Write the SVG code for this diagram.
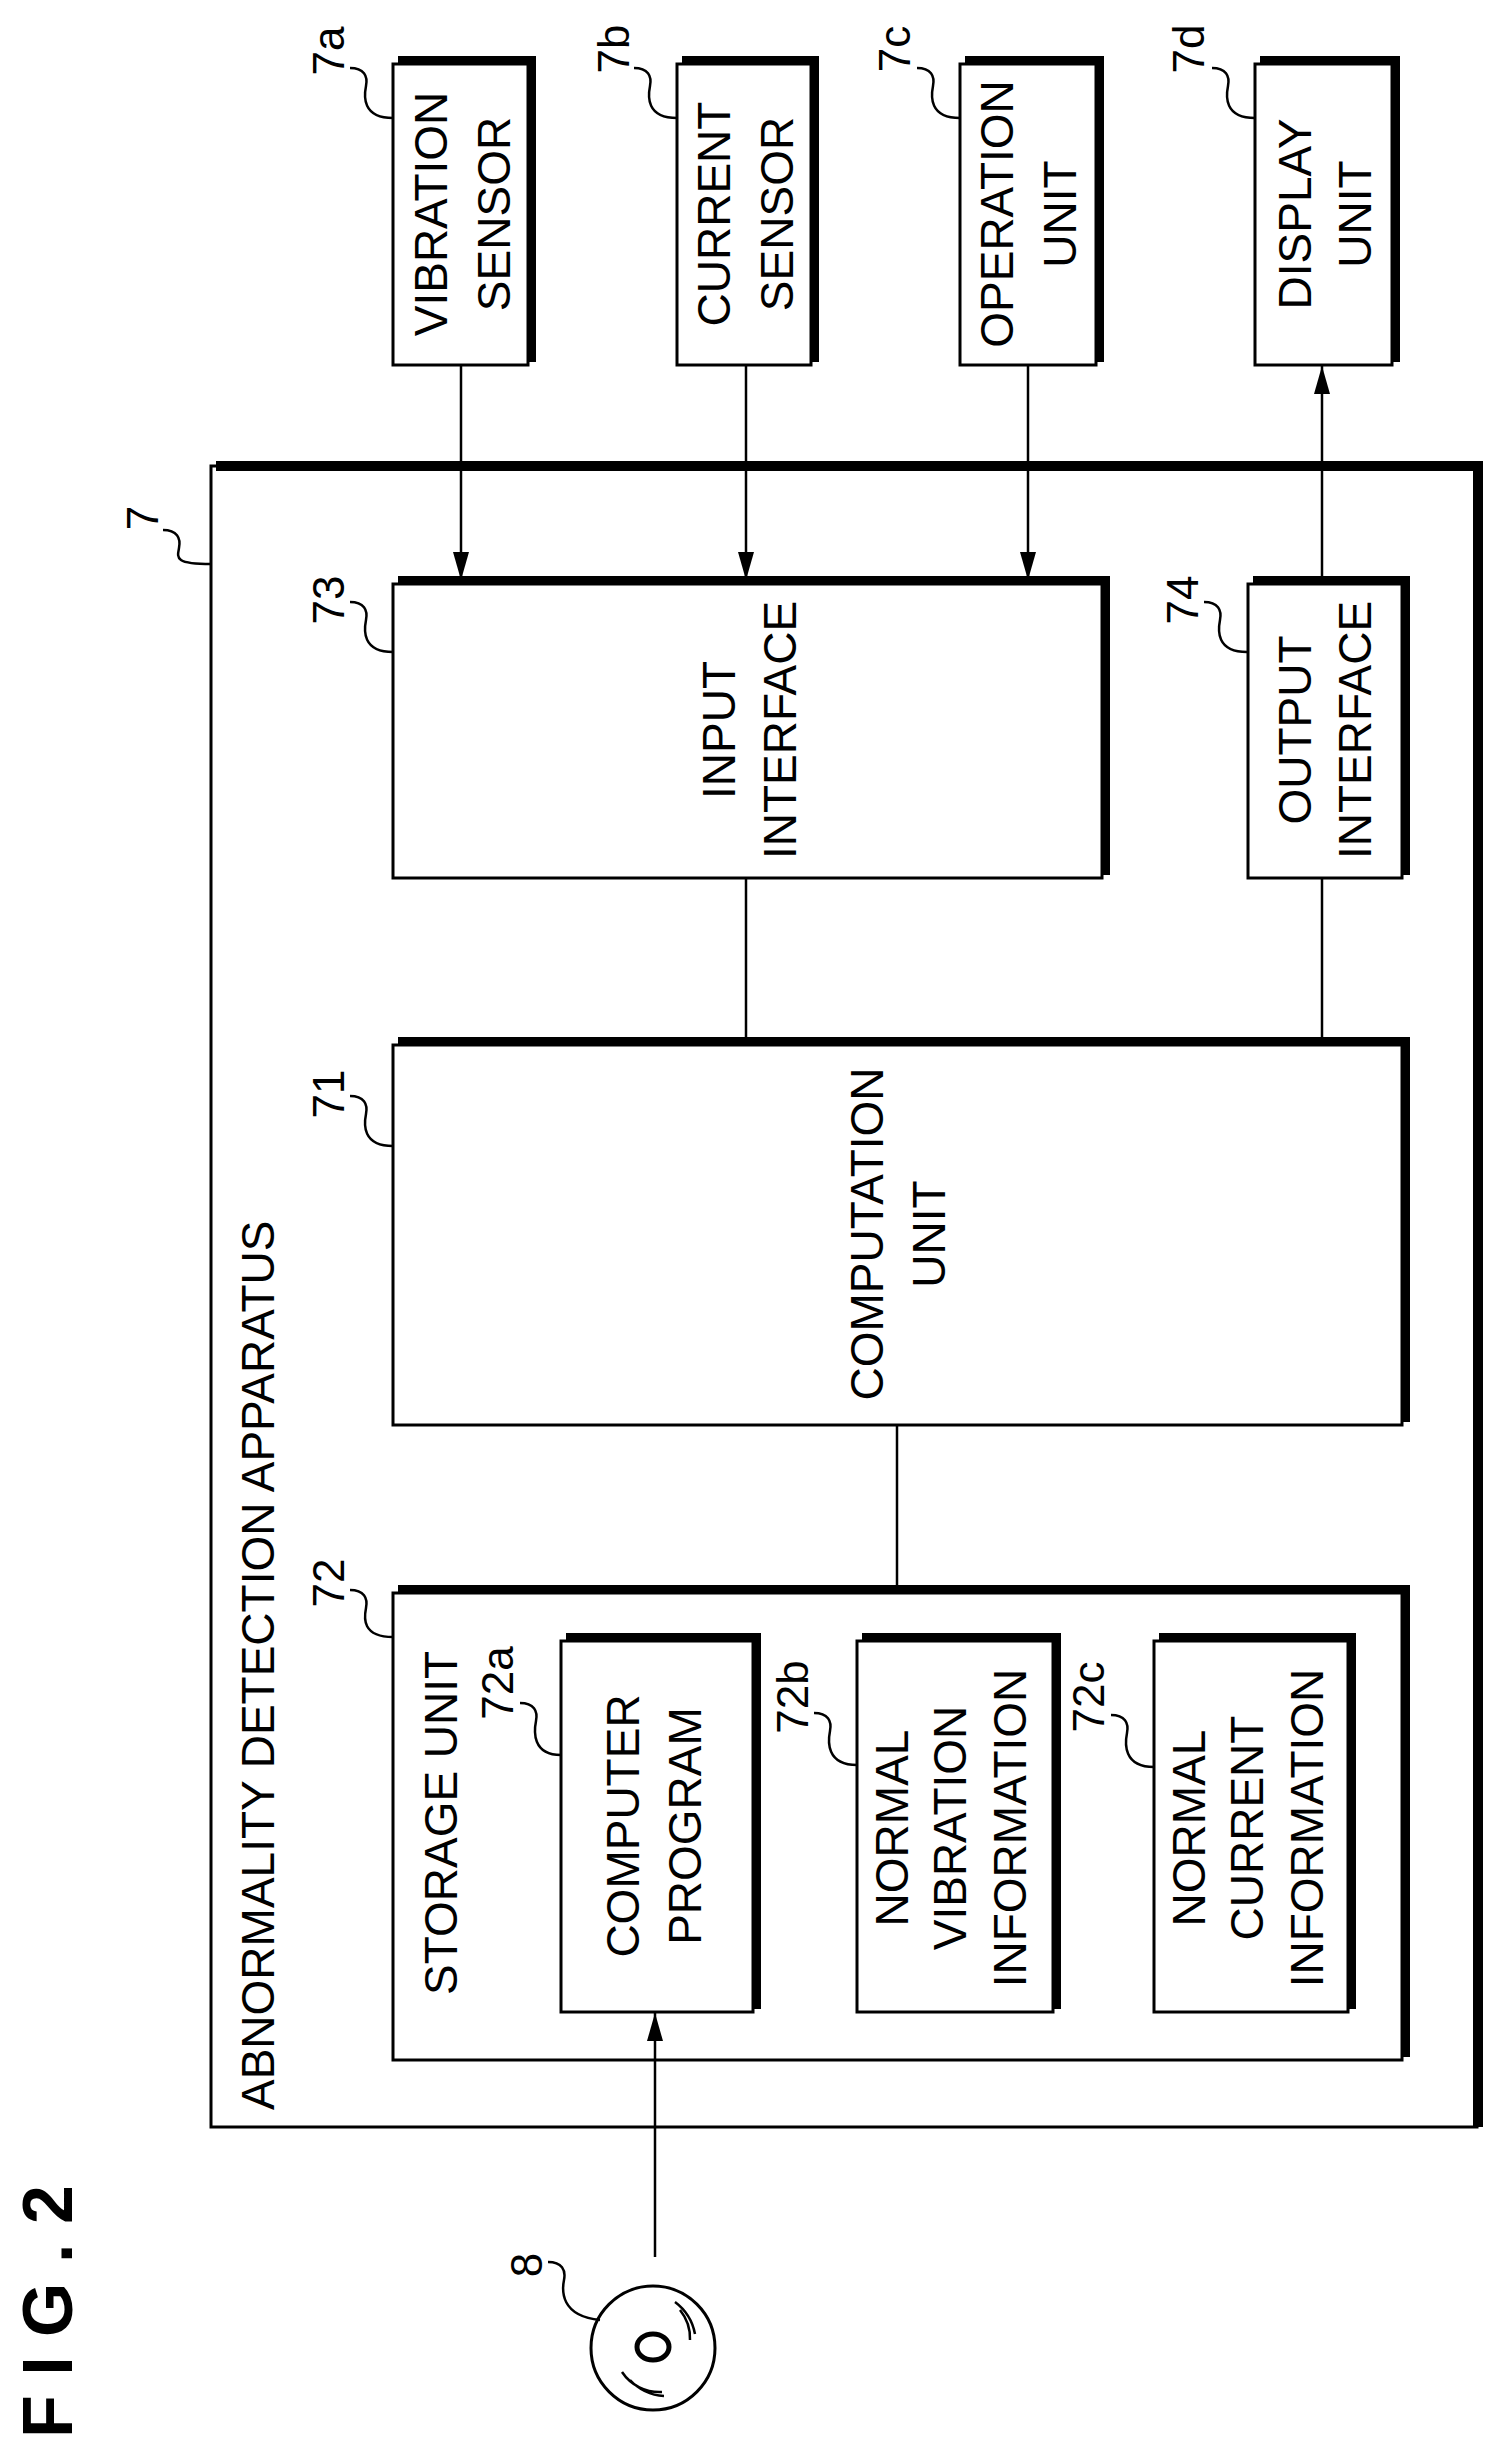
<svg xmlns="http://www.w3.org/2000/svg" width="1503" height="2460" viewBox="0 0 1503 2460">
<style>
text{font-family:"Liberation Sans",Arial,sans-serif;font-size:46px;fill:#000}
.m{text-anchor:middle}
.r{font-size:44px}
.b{fill:#fff;stroke:#000;stroke-width:3}
.s{fill:none;stroke:#000;stroke-width:8}
.l{fill:none;stroke:#000;stroke-width:2.5}
</style>
<defs>
<marker id="a" markerWidth="30" markerHeight="20" refX="28" refY="10" orient="auto" markerUnits="userSpaceOnUse"><path d="M0,2 L28,10 L0,18 Z" fill="#000"/></marker>
</defs>
<rect width="1503" height="2460" fill="#fff"/>

<g id="n7">
<rect class="b" x="211" y="466" width="1266" height="1661"/>
<polyline points="216,466 1478,466 1478,2127" fill="none" stroke="#000" stroke-width="10"/>
<text transform="translate(158,518) rotate(-90)" class="m r">7</text>
<path class="l" d="M163,530 c14,0 18,8 16,18 c-2,10 -4,16 32,16"/>
<text transform="translate(274,2110) rotate(-90)">ABNORMALITY DETECTION APPARATUS</text>
</g>

<g id="n7a">
<rect class="b" x="393" y="64" width="135" height="301"/>
<polyline class="s" points="398,60 532,60 532,362"/>
<text transform="translate(447,214) rotate(-90)" class="m">VIBRATION</text>
<text transform="translate(510,214) rotate(-90)" class="m">SENSOR</text>
<text transform="translate(344,51) rotate(-90)" class="m r">7a</text>
<path class="l" d="M350,68 c14,0 18,8 16,18 c-2,10 -4,32 27,32"/>
</g>
<g id="n7b">
<rect class="b" x="677" y="64" width="134" height="301"/>
<polyline class="s" points="682,60 815,60 815,362"/>
<text transform="translate(730,214) rotate(-90)" class="m">CURRENT</text>
<text transform="translate(793,214) rotate(-90)" class="m">SENSOR</text>
<text transform="translate(629,49) rotate(-90)" class="m r">7b</text>
<path class="l" d="M634,68 c14,0 18,8 16,18 c-2,10 -4,32 27,32"/>
</g>
<g id="n7c">
<rect class="b" x="960" y="64" width="136" height="301"/>
<polyline class="s" points="965,60 1100,60 1100,362"/>
<text transform="translate(1013,214) rotate(-90)" class="m">OPERATION</text>
<text transform="translate(1076,214) rotate(-90)" class="m">UNIT</text>
<text transform="translate(910,49) rotate(-90)" class="m r">7c</text>
<path class="l" d="M917,68 c14,0 18,8 16,18 c-2,10 -4,32 27,32"/>
</g>
<g id="n7d">
<rect class="b" x="1255" y="64" width="137" height="301"/>
<polyline class="s" points="1260,60 1396,60 1396,362"/>
<text transform="translate(1311,214) rotate(-90)" class="m">DISPLAY</text>
<text transform="translate(1371,214) rotate(-90)" class="m">UNIT</text>
<text transform="translate(1204,49) rotate(-90)" class="m r">7d</text>
<path class="l" d="M1212,68 c14,0 18,8 16,18 c-2,10 -4,32 27,32"/>
</g>

<g id="n73">
<rect class="b" x="393" y="584" width="709" height="294"/>
<polyline class="s" points="398,580 1106,580 1106,875"/>
<text transform="translate(735,730) rotate(-90)" class="m">INPUT</text>
<text transform="translate(796,730) rotate(-90)" class="m">INTERFACE</text>
<text transform="translate(344,600) rotate(-90)" class="m r">73</text>
<path class="l" d="M350,602 c14,0 18,8 16,18 c-2,10 -4,32 27,32"/>
</g>
<g id="n74">
<rect class="b" x="1248" y="584" width="154" height="294"/>
<polyline class="s" points="1253,580 1406,580 1406,875"/>
<text transform="translate(1311,730) rotate(-90)" class="m">OUTPUT</text>
<text transform="translate(1371,730) rotate(-90)" class="m">INTERFACE</text>
<text transform="translate(1198,600) rotate(-90)" class="m r">74</text>
<path class="l" d="M1204,602 c14,0 18,8 16,18 c-2,10 -4,32 27,32"/>
</g>
<g id="n71">
<rect class="b" x="393" y="1045" width="1009" height="380"/>
<polyline class="s" points="398,1041 1406,1041 1406,1422"/>
<text transform="translate(883,1234) rotate(-90)" class="m">COMPUTATION</text>
<text transform="translate(945,1234) rotate(-90)" class="m">UNIT</text>
<text transform="translate(344,1094) rotate(-90)" class="m r">71</text>
<path class="l" d="M350,1096 c14,0 18,8 16,18 c-2,10 -4,32 27,32"/>
</g>
<g id="n72">
<rect class="b" x="393" y="1593" width="1009" height="467"/>
<polyline class="s" points="398,1589 1406,1589 1406,2057"/>
<text transform="translate(457,1995) rotate(-90)">STORAGE UNIT</text>
<text transform="translate(344,1583) rotate(-90)" class="m r">72</text>
<path class="l" d="M350,1590 c14,0 18,8 16,18 c-2,10 -4,29 27,29"/>
</g>
<g id="n72a">
<rect class="b" x="561" y="1641" width="192" height="371"/>
<polyline class="s" points="566,1637 757,1637 757,2009"/>
<text transform="translate(639,1826) rotate(-90)" class="m">COMPUTER</text>
<text transform="translate(701,1826) rotate(-90)" class="m">PROGRAM</text>
<text transform="translate(513,1683) rotate(-90)" class="m r">72a</text>
<path class="l" d="M520,1703 c14,0 18,8 16,18 c-2,10 -4,34 25,34"/>
</g>
<g id="n72b">
<rect class="b" x="857" y="1641" width="196" height="371"/>
<polyline class="s" points="862,1637 1057,1637 1057,2009"/>
<text transform="translate(908,1828) rotate(-90)" class="m">NORMAL</text>
<text transform="translate(966,1828) rotate(-90)" class="m">VIBRATION</text>
<text transform="translate(1026,1828) rotate(-90)" class="m">INFORMATION</text>
<text transform="translate(808,1697) rotate(-90)" class="m r">72b</text>
<path class="l" d="M814,1713 c14,0 18,8 16,18 c-2,10 -4,34 27,34"/>
</g>
<g id="n72c">
<rect class="b" x="1154" y="1641" width="194" height="371"/>
<polyline class="s" points="1159,1637 1352,1637 1352,2009"/>
<text transform="translate(1205,1828) rotate(-90)" class="m">NORMAL</text>
<text transform="translate(1263,1828) rotate(-90)" class="m">CURRENT</text>
<text transform="translate(1323,1828) rotate(-90)" class="m">INFORMATION</text>
<text transform="translate(1104,1697) rotate(-90)" class="m r">72c</text>
<path class="l" d="M1111,1715 c14,0 18,8 16,18 c-2,10 -4,34 27,34"/>
</g>
<g id="n8">
<circle cx="653" cy="2348" r="62" fill="#fff" stroke="#000" stroke-width="3"/>
<ellipse cx="653" cy="2347" rx="16" ry="13" fill="none" stroke="#000" stroke-width="5"/>
<path class="l" d="M622,2372 a45,45 0 0 0 40,20 M630,2380 a50,50 0 0 0 34,16 M680,2310 a45,45 0 0 1 10,30 M675,2302 a52,52 0 0 1 20,32" stroke-width="1.5"/>
<text transform="translate(542,2265) rotate(-90)" class="m r">8</text>
<path class="l" d="M548,2262 c14,0 18,8 16,18 c-2,10 -4,36 36,40"/>
</g>
<text transform="translate(72,2438) rotate(-90)" style="font-weight:bold;font-size:70px">F I G . 2</text>

<g id="connectors" stroke="#000" stroke-width="2.5" fill="none">
<line x1="461" y1="365" x2="461" y2="580" marker-end="url(#a)"/>
<line x1="746" y1="365" x2="746" y2="580" marker-end="url(#a)"/>
<line x1="1028" y1="365" x2="1028" y2="580" marker-end="url(#a)"/>
<line x1="1322" y1="580" x2="1322" y2="366" marker-end="url(#a)"/>
<line x1="746" y1="878" x2="746" y2="1041"/>
<line x1="1322" y1="878" x2="1322" y2="1041"/>
<line x1="897" y1="1425" x2="897" y2="1589"/>
<line x1="655" y1="2257" x2="655" y2="2013" marker-end="url(#a)"/>
</g>
</svg>
